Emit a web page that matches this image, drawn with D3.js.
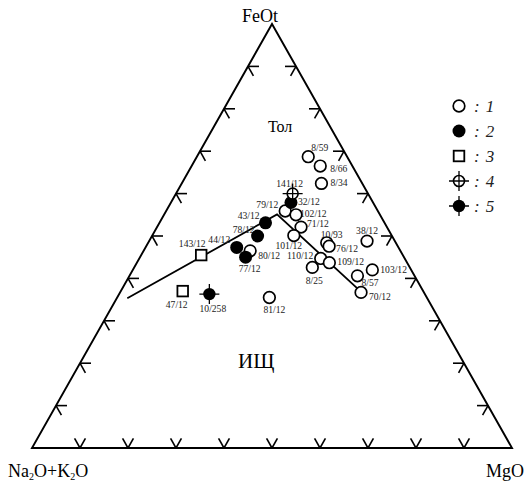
<!DOCTYPE html>
<html>
<head>
<meta charset="utf-8">
<script src="https://cdn.jsdelivr.net/npm/d3@7"></script>
<style>
  html, body { margin: 0; padding: 0; background: #fff; }
  svg { display: block; }
  text { font-family: "Liberation Serif", "Times New Roman", serif; }
</style>
</head>
<body>
<svg id="chart" width="530" height="486"></svg>
<script>
// AFM ternary diagram: (Na2O+K2O) – FeOt – MgO, values in percent.
const sampleIds = ["8/59","8/66","8/34","79/12","102/12","71/12","101/12","10/93","76/12","38/12",
  "110/12","109/12","8/25","103/12","8/57","70/12","80/12","81/12",
  "32/12","43/12","78/12","44/12","77/12",
  "143/12","47/12",
  "141/12",
  "10/258"];
const feot = [68.7,66.5,62.4,55.9,55.0,52.1,50.1,48.4,47.6,48.8,
  44.7,43.7,42.6,42.0,40.6,36.7,46.5,35.5,
  57.9,53.1,50.0,47.3,45.0,
  45.5,37.0,
  60.0,
  36.3];
const mgo = [23.2,26.8,29.1,24.8,27.5,30.0,29.5,37.2,38.1,45.4,
  37.8,40.1,37.1,49.9,47.5,50.2,22.2,31.7,
  25.0,22.1,22.0,19.0,22.0,
  12.5,12.9,
  24.3,
  18.8];
const alk = feot.map((f, i) => +(100 - f - mgo[i]).toFixed(1));
const group = [1,1,1,1,1,1,1,1,1,1,
  1,1,1,1,1,1,1,1,
  2,2,2,2,2,
  3,3,
  4,
  5];

// Boundary between the tholeiitic (Тол) and calc-alkaline (ИЩ) fields
const boundaryFeot = [35.3, 55.1, 37.0];
const boundaryMgo  = [2.2, 23.5, 49.9];

const legendLabels = ["1","2","3","4","5"];
const tickValues = d3.range(10, 100, 10);

// Label placement around each sample marker: [dx, dy, anchor]
const labelPlace = {
  "8/59":[3,-6,"start"], "8/66":[10,6,"start"], "8/34":[9,3,"start"],
  "79/12":[-7,-3,"end"], "102/12":[4,2,"start"], "71/12":[6,0,"start"],
  "101/12":[-5,13.5,"middle"], "10/93":[5,-4.5,"middle"], "76/12":[7,5.5,"start"],
  "38/12":[0,-7,"middle"], "110/12":[-7.5,1,"end"], "109/12":[8,2,"start"],
  "8/25":[2,16.5,"middle"], "103/12":[8,3.5,"start"], "8/57":[4,10,"start"],
  "70/12":[8,8,"start"], "80/12":[8,8.5,"start"], "81/12":[5,16,"middle"],
  "32/12":[7,2.5,"start"], "43/12":[-6,-4,"end"], "78/12":[-3,-3.5,"end"],
  "44/12":[-6.5,-4,"end"], "77/12":[4,15,"middle"], "143/12":[-9,-8.5,"middle"],
  "47/12":[-6,16.5,"middle"], "141/12":[-3,-7,"middle"], "10/258":[3.5,18,"middle"]
};

const svg = d3.select("#chart");

// Ternary projection: y from FeOt, x from MgO + FeOt/2
const yScale = d3.scaleLinear().domain([0, 100]).range([448, 24]);
const xScale = d3.scaleLinear().domain([0, 100]).range([32, 512]);
const proj = (f, m) => [xScale(m + f / 2), yScale(f)];

const Lv = proj(0, 0), Rv = proj(0, 100), Tv = proj(100, 0);

// Triangle frame
svg.append("path")
  .attr("d", d3.line()([Lv, Rv, Tv, Lv]) + "Z")
  .attr("fill", "none").attr("stroke", "#000").attr("stroke-width", 1.9)
  .attr("stroke-linejoin", "miter");

// Tick marks: two short strokes along the ternary grid directions
const unit = (a, b) => { const dx = b[0]-a[0], dy = b[1]-a[1], l = Math.hypot(dx, dy); return [dx/l, dy/l]; };
const dirLT = unit(Lv, Tv);   // up along left side
const dirRT = unit(Rv, Tv);   // up along right side
const dirLR = unit(Lv, Rv);   // along base
const tl = 11;
const ticks = [];
tickValues.forEach(v => {
  // base (MgO axis): strokes parallel to both sides
  const b = proj(0, v);
  ticks.push([b, [b[0] + dirLT[0]*tl, b[1] + dirLT[1]*tl]]);
  ticks.push([b, [b[0] + dirRT[0]*tl, b[1] + dirRT[1]*tl]]);
  // left side (FeOt axis): strokes parallel to base and right side
  const l = proj(v, 0);
  ticks.push([l, [l[0] + dirLR[0]*tl, l[1] + dirLR[1]*tl]]);
  ticks.push([l, [l[0] - dirRT[0]*tl, l[1] - dirRT[1]*tl]]);
  // right side: strokes parallel to base and left side
  const r = proj(v, 100 - v);
  ticks.push([r, [r[0] - dirLR[0]*tl, r[1] - dirLR[1]*tl]]);
  ticks.push([r, [r[0] - dirLT[0]*tl, r[1] - dirLT[1]*tl]]);
});
svg.append("g").selectAll("line").data(ticks).join("line")
  .attr("x1", d => d[0][0]).attr("y1", d => d[0][1])
  .attr("x2", d => d[1][0]).attr("y2", d => d[1][1])
  .attr("stroke", "#000").attr("stroke-width", 1.6);

// Field boundary
svg.append("path")
  .attr("d", d3.line()(boundaryFeot.map((f, i) => proj(f, boundaryMgo[i]))))
  .attr("fill", "none").attr("stroke", "#000").attr("stroke-width", 1.8);

// Vertex and field labels
svg.append("text").attr("x", 260).attr("y", 22).attr("text-anchor", "middle")
  .attr("font-size", 18).text("FeOt");
const alkText = svg.append("text").attr("x", 8).attr("y", 477).attr("font-size", 18);
alkText.append("tspan").text("Na");
alkText.append("tspan").attr("font-size", 10).attr("dy", 3).text("2");
alkText.append("tspan").attr("dy", -3).text("O+K");
alkText.append("tspan").attr("font-size", 10).attr("dy", 3).text("2");
alkText.append("tspan").attr("dy", -3).text("O");
svg.append("text").attr("x", 524).attr("y", 477).attr("text-anchor", "end")
  .attr("font-size", 18).text("MgO");
svg.append("text").attr("x", 268).attr("y", 132).attr("font-size", 16).text("Тол");
svg.append("text").attr("x", 238).attr("y", 368).attr("font-size", 21).text("ИЩ");

// Marker drawing by group
function drawMarker(g, type) {
  if (type === 1) {
    g.append("circle").attr("r", 5.8).attr("fill", "#fff").attr("stroke", "#000").attr("stroke-width", 1.7);
  } else if (type === 2) {
    g.append("circle").attr("r", 6.5).attr("fill", "#000");
  } else if (type === 3) {
    g.append("rect").attr("x", -5.3).attr("y", -5.3).attr("width", 10.6).attr("height", 10.6)
      .attr("fill", "#fff").attr("stroke", "#000").attr("stroke-width", 1.8);
  } else if (type === 4) {
    g.append("circle").attr("r", 5.5).attr("fill", "#fff").attr("stroke", "#000").attr("stroke-width", 1.6);
    g.append("path").attr("d", "M-10,0H10M0,-10V10").attr("stroke", "#000").attr("stroke-width", 1.3);
  } else {
    g.append("path").attr("d", "M-10,0H10M0,-10V10").attr("stroke", "#000").attr("stroke-width", 1.3);
    g.append("circle").attr("r", 6.2).attr("fill", "#000");
  }
}

const pts = sampleIds.map((id, i) => ({ id, f: feot[i], m: mgo[i], a: alk[i], g: group[i] }));

// Sample labels
svg.append("g").selectAll("text").data(pts).join("text")
  .attr("x", d => proj(d.f, d.m)[0] + labelPlace[d.id][0])
  .attr("y", d => proj(d.f, d.m)[1] + labelPlace[d.id][1])
  .attr("text-anchor", d => labelPlace[d.id][2])
  .attr("font-size", 9.6).attr("fill", "#222")
  .text(d => d.id);

// Sample markers
const mg = svg.append("g");
pts.forEach(d => {
  const [x, y] = proj(d.f, d.m);
  drawMarker(mg.append("g").attr("transform", `translate(${x},${y})`), d.g);
});

// Legend
const legendY = d3.scalePoint().domain(legendLabels).range([106, 206]);
const lg = svg.append("g");
legendLabels.forEach((lab, i) => {
  const y = legendY(lab);
  drawMarker(lg.append("g").attr("transform", `translate(459,${y})`), i + 1);
  const t = lg.append("text").attr("x", 474).attr("y", y + 6).attr("font-size", 17)
    .attr("font-style", "italic").attr("fill", "#222");
  t.append("tspan").text(":");
  t.append("tspan").attr("dx", 6).text(lab);
});
</script>
</body>
</html>
